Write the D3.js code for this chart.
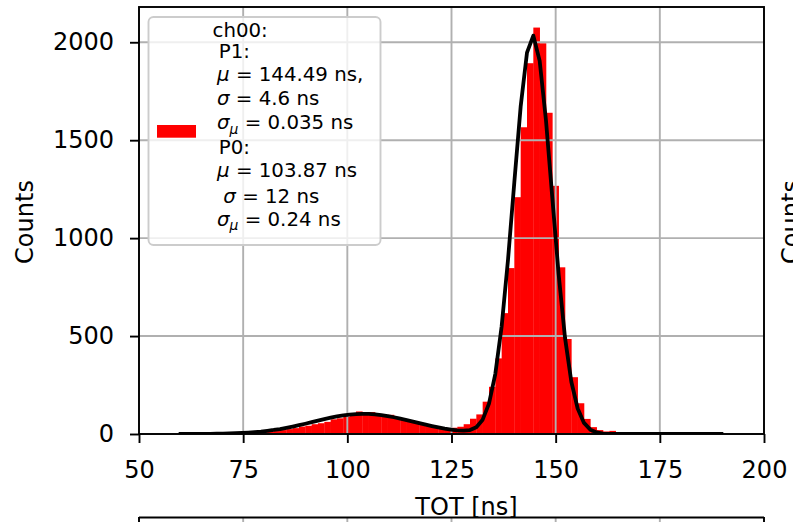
<!DOCTYPE html>
<html><head><meta charset="utf-8">
<script src="https://cdn.jsdelivr.net/npm/d3@7/dist/d3.min.js"></script>
<style>
body{margin:0;background:#fff}
svg{display:block;font-family:'DejaVu Sans',sans-serif}
</style>
</head><body>
<svg id="c" width="793" height="522"></svg>
<script>
// ---- data ----
const binStart = 59.52;   // first histogram bin edge, ns
const binWidth = 1.52;    // histogram bin width, ns
const counts = [1,0,1,1,2,1,2,3,3,4,5,6,8,10,
  12,15,20,25,30,38,42,50,55,62,75,80,88,95,115,108,112,100,92,98,85,75,66,60,52,45,40,33,28,32,37,50,
  78,100,165,241,386,617,847,1209,1566,1893,2075,1995,1640,1267,851,485,290,157,77,35,
  20,13,16,8,10,5,8,4,7,3,6,3,6,2,5,2,4];
// fit curve values sampled at the bin edges
const fitValues = [0.1,0.2,0.3,0.4,0.6,1.0,1.4,2.0,2.8,3.9,5.4,7.3,9.7,12.6,16.3,20.5,25.5,31.3,37.8,44.9,
  52.4,60.3,68.2,75.8,83.1,89.5,95.0,99.2,101.9,103.0,102.5,100.3,96.6,91.6,85.5,78.5,70.9,63.0,55.2,47.5,
  40.3,33.6,27.5,22.5,18.6,16.9,20.2,34.9,73.2,155,307,550,889,1286,1672,1947,2034,1905,1600,1205,
  814,492,267,130,56.6,22.1,7.8,2.4,0.7,0.2,0,0,0,0,0,0,0,0,0,0,0,0,0,0,0,0,0];
const xTicks = [50,75,100,125,150,175,200];
const yTicks = [0,500,1000,1500,2000];
const xDomain = [50,200];
const yDomain = [0,2180];
const legendTitle = "ch00:";
const legendLines = [" P1:","μ = 144.49 ns,","σ = 4.6 ns","σ_μ = 0.035 ns"," P0:","μ = 103.87 ns"," σ = 12 ns","σ_μ = 0.24 ns"];
const xLabel = "TOT [ns]";
const yLabel = "Counts";

// ---- layout ----
const L=139, R=764, T=7, B=434;
const svg = d3.select("#c");
const x = d3.scaleLinear().domain(xDomain).range([L,R]);
const y = d3.scaleLinear().domain(yDomain).range([B,T]);
const FS = 24, LFS = 19.8;

svg.append("defs").append("clipPath").attr("id","clip")
  .append("rect").attr("x",L).attr("y",T).attr("width",R-L).attr("height",B-T);

// bars
svg.append("g").attr("clip-path","url(#clip)").selectAll("rect").data(counts).join("rect")
  .attr("x",(d,i)=>x(binStart+i*binWidth))
  .attr("width",(d,i)=>x(binStart+(i+1)*binWidth)-x(binStart+i*binWidth)+0.3)
  .attr("y",d=>y(d)).attr("height",d=>y(0)-y(d))
  .attr("fill","#ff0000");

// grid (above bars)
const grid = svg.append("g").attr("stroke","#b0b0b0").attr("stroke-width",1.9);
xTicks.forEach(t=>grid.append("line").attr("x1",x(t)).attr("x2",x(t)).attr("y1",T).attr("y2",B));
yTicks.forEach(t=>grid.append("line").attr("x1",L).attr("x2",R).attr("y1",y(t)).attr("y2",y(t)));

// fit curve
const line = d3.line().x((d,i)=>x(binStart+i*binWidth)).y(d=>y(d));
svg.append("path").attr("clip-path","url(#clip)").datum(fitValues).attr("d",line)
  .attr("fill","none").attr("stroke","#000").attr("stroke-width",3.8).attr("stroke-linejoin","round");

// axes
const xAxis = svg.append("g").attr("transform",`translate(0,${B})`)
  .call(d3.axisBottom(x).tickValues(xTicks).tickSize(9).tickPadding(18).tickFormat(d3.format("d")));
const yAxis = svg.append("g").attr("transform",`translate(${L},0)`)
  .call(d3.axisLeft(y).tickValues(yTicks).tickSize(9).tickPadding(16).tickFormat(d3.format("d")));
[xAxis,yAxis].forEach(a=>{
  a.select(".domain").remove();
  a.selectAll(".tick line").attr("stroke","#000").attr("stroke-width",1.9);
  a.selectAll("text").attr("font-size",FS).attr("font-family","'DejaVu Sans',sans-serif").attr("fill","#000");
});

// frame
svg.append("rect").attr("x",L).attr("y",T).attr("width",R-L).attr("height",B-T)
  .attr("fill","none").attr("stroke","#000").attr("stroke-width",1.9);

// axis labels
svg.append("text").attr("x",(L+R)/2+15).attr("y",515).attr("text-anchor","middle")
  .attr("font-size",FS).text(xLabel);
svg.append("text").attr("transform","translate(33,222) rotate(-90)").attr("text-anchor","middle")
  .attr("font-size",FS).text(yLabel);
// neighbouring subplot label (cut by the page edge)
svg.append("text").attr("transform","translate(799,222) rotate(-90)").attr("text-anchor","middle")
  .attr("font-size",FS).text(yLabel);

// neighbouring subplot below (only its top edge is visible)
const nb = svg.append("g");
xTicks.forEach(t=>nb.append("line").attr("x1",x(t)).attr("x2",x(t)).attr("y1",517).attr("y2",522)
  .attr("stroke","#b0b0b0").attr("stroke-width",1.9));
nb.append("line").attr("x1",L).attr("x2",R).attr("y1",517.5).attr("y2",517.5).attr("stroke","#000").attr("stroke-width",1.9);
nb.append("line").attr("x1",L).attr("x2",L).attr("y1",517).attr("y2",522).attr("stroke","#000").attr("stroke-width",1.9);
nb.append("line").attr("x1",R).attr("x2",R).attr("y1",517).attr("y2",522).attr("stroke","#000").attr("stroke-width",1.9);

// legend
const lg = svg.append("g");
lg.append("rect").attr("x",148.5).attr("y",17).attr("width",232).attr("height",228).attr("rx",5)
  .attr("fill","#fff").attr("fill-opacity",0.8).attr("stroke","#cccccc").attr("stroke-width",1.9);
lg.append("rect").attr("x",157).attr("y",125).attr("width",39).attr("height",12.7).attr("fill","#ff0000");
const baselines = [37,57.5,80.8,105,129.3,154.3,176.8,202.5,225.8];
lg.append("text").attr("x",212.5).attr("y",baselines[0]).attr("font-size",LFS).text(legendTitle);
legendLines.forEach((s,i)=>{
  const lead = s.length - s.trimStart().length;
  const body = s.trimStart();
  const isMath = /^[μσ]/.test(body);
  const t = lg.append("text").attr("x",(isMath?217:212.5)+lead*6.3).attr("y",baselines[i+1]).attr("font-size",LFS);
  if(!isMath){ t.text(body); return; }
  const m = body.match(/^([μσ])(_([μσ]))?(.*)$/);
  t.append("tspan").attr("font-style","italic").text(m[1]);
  if(m[3]){
    t.append("tspan").attr("font-style","italic").attr("font-size",LFS*0.7).attr("dy",4.5).text(m[3]);
    t.append("tspan").attr("dy",-4.5).text(m[4]);
  } else {
    t.append("tspan").text(m[4]);
  }
  t.attr("xml:space","preserve");
});
</script>
</body></html>
